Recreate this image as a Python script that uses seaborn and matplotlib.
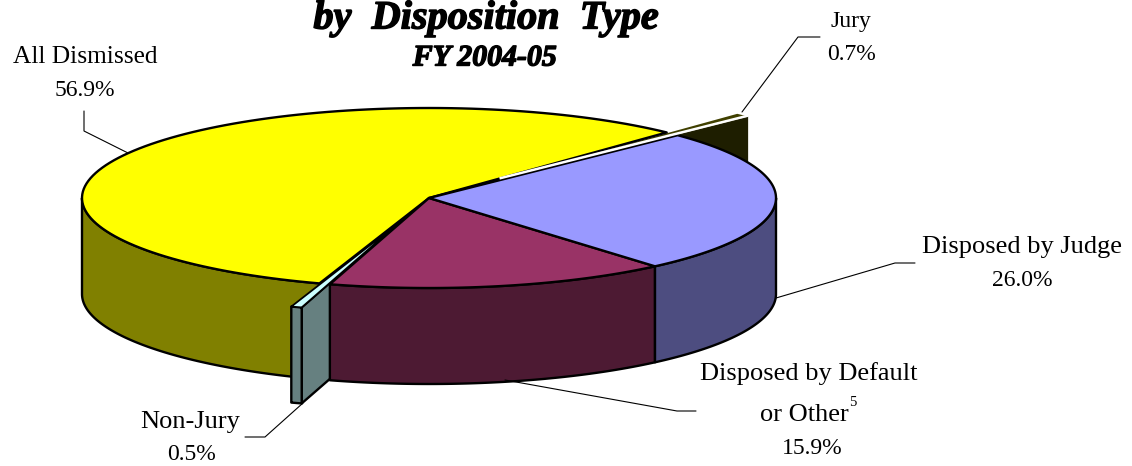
import numpy as np
import matplotlib
matplotlib.use("Agg")
import matplotlib.pyplot as plt
import matplotlib.patheffects as pe
import seaborn as sns

# ============================================================
# Data
# ============================================================

categories = ["Disposed by Default", "Disposed by Judge", "Jury", "All Dismissed", "Non-Jury"]
shares = [15.9, 26.0, 0.7, 56.9, 0.5]

# ============================================================
# Styles and pie geometry (pixels)
# ============================================================

top_colors = ["#993366", "#9999FF", "#404000", "#FFFF00", "#CCFFFF"]
wall_colors = ["#4D1A33", "#4D4D80", "#1E1E00", "#808000", "#668080"]
explode = [0, 0, 0.29, 0, 0.27]

CX, CY = 429, 198
RX, RY = 347, 90
DEPTH = 96
START = -106.6

sns.set_style("white")
plt.rcParams["font.family"] = ["Liberation Serif", "DejaVu Serif"]
plt.rcParams["text.color"] = "black"

fig = plt.figure(figsize=(11.32, 4.66), dpi=100)
ax = fig.add_axes([0, 0, 1, 1])
ax.set_xlim(0, 1132)
ax.set_ylim(466, 0)
ax.axis("off")

# slice angles come from the shares
edges = START + np.cumsum([0] + shares) * 3.6
slices = {}
for i, name in enumerate(categories):
    mid = np.radians((edges[i] + edges[i + 1]) / 2)
    slices[name] = {
        "a0": edges[i],
        "a1": edges[i + 1],
        "cx": CX + explode[i] * RX * np.cos(mid),
        "cy": CY - explode[i] * RY * np.sin(mid),
        "top": top_colors[i],
        "wall": wall_colors[i],
    }


def arc(s, a0=None, a1=None, n=120):
    a0 = s["a0"] if a0 is None else a0
    a1 = s["a1"] if a1 is None else a1
    t = np.radians(np.linspace(a0, a1, n))
    return s["cx"] + RX * np.cos(t), s["cy"] - RY * np.sin(t)


def draw_top(s, lw=1.7, edge="black"):
    x, y = arc(s)
    ax.fill(np.r_[s["cx"], x], np.r_[s["cy"], y], facecolor=s["top"],
            edgecolor=edge, linewidth=lw, joinstyle="round")


def draw_outer_wall(s, a0, a1, lw=1.7):
    x, y = arc(s, a0, a1)
    ax.fill(np.r_[x, x[::-1]], np.r_[y, y[::-1] + DEPTH], facecolor=s["wall"],
            edgecolor="black", linewidth=lw, joinstyle="round")


def draw_cut_wall(s, angle, lw=1.7, edge="black"):
    x, y = arc(s, angle, angle, 1)
    ax.fill([s["cx"], x[0], x[0], s["cx"]],
            [s["cy"], y[0], y[0] + DEPTH, s["cy"] + DEPTH],
            facecolor=s["wall"], edgecolor=edge, linewidth=lw, joinstyle="round")


default = slices["Disposed by Default"]
judge = slices["Disposed by Judge"]
jury = slices["Jury"]
dismissed = slices["All Dismissed"]
nonjury = slices["Non-Jury"]

# ============================================================
# Draw slices back to front
# ============================================================

draw_cut_wall(jury, jury["a0"], lw=0, edge="none")
draw_top(jury, lw=0, edge="none")

draw_outer_wall(dismissed, 180, dismissed["a1"])
draw_top(dismissed, lw=1.7)

draw_cut_wall(nonjury, nonjury["a1"])
draw_outer_wall(default, default["a0"], default["a1"])
draw_top(default)
draw_outer_wall(judge, judge["a0"], 0)
draw_top(judge)

# pulled out slices sit on top
draw_outer_wall(nonjury, nonjury["a0"], nonjury["a1"])
draw_top(nonjury, lw=1.3)

jx, jy = arc(jury, jury["a0"], jury["a0"], 1)
ax.plot([jury["cx"], jx[0]], [jury["cy"] - 1, jy[0] - 1], color="white", lw=1.8,
        solid_capstyle="butt")

# ============================================================
# Title
# ============================================================

heavy = [pe.withStroke(linewidth=1.0, foreground="black")]
ax.text(486, 19, "by  Disposition  Type", ha="center", va="center", fontsize=29,
        fontweight="bold", fontstyle="italic", path_effects=heavy)
ax.text(485, 58, "FY 2004-05", ha="center", va="center", fontsize=21.5,
        fontweight="bold", fontstyle="italic", path_effects=heavy)

# ============================================================
# Labels and leader lines
# ============================================================

NAME = 19
VALUE = 17


def pct(name):
    return f"{shares[categories.index(name)]:.1f}%"


ax.text(85, 57, "All Dismissed", ha="center", va="center", fontsize=18.3)
ax.text(85, 90, pct("All Dismissed"), ha="center", va="center", fontsize=VALUE)
ax.text(851, 22, "Jury", ha="center", va="center", fontsize=VALUE)
ax.text(851, 55, pct("Jury"), ha="center", va="center", fontsize=VALUE)
ax.text(1022, 247, "Disposed by Judge", ha="center", va="center", fontsize=NAME)
ax.text(1022, 280, pct("Disposed by Judge"), ha="center", va="center", fontsize=VALUE)
ax.text(809, 374, "Disposed by Default", ha="center", va="center", fontsize=NAME)
ax.text(804, 415, "or Other", ha="center", va="center", fontsize=NAME)
ax.text(853, 403, "5", ha="center", va="center", fontsize=10.5)
ax.text(812, 449, pct("Disposed by Default"), ha="center", va="center", fontsize=VALUE)
ax.text(190, 422, "Non-Jury", ha="center", va="center", fontsize=NAME)
ax.text(192, 455, pct("Non-Jury"), ha="center", va="center", fontsize=VALUE)

leaders = [
    ([84, 84, 128], [111, 131, 153]),
    ([742, 798, 820], [112, 37, 37]),
    ([776, 895, 915], [298, 263, 263]),
    ([505, 677, 696], [380, 411, 411]),
    ([303, 265, 245], [403, 437, 437]),
]
for lx, ly in leaders:
    ax.plot(lx, ly, color="black", lw=0.8, solid_joinstyle="miter", zorder=1)

fig.savefig("out.png", dpi=100)
